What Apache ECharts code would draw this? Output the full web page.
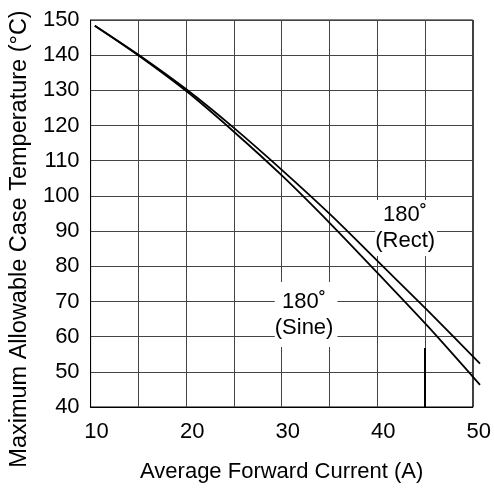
<!DOCTYPE html>
<html>
<head>
<meta charset="utf-8">
<script src="https://cdn.jsdelivr.net/npm/echarts@6/dist/echarts.min.js"></script>
<style>
  html, body { margin: 0; padding: 0; background: #fff; }
  #char { width: 494px; height: 489px; }
</style>
</head>
<body>
<div id="char"></div>
<script>
// current (A) and case temperature (°C)
let rectX = [10.5, 15, 20, 25, 30, 35, 40, 45, 50.5]
let rectY = [148.4, 140.2, 130.3, 119.2, 107.2, 94.6, 81.1, 67.6, 52.3]
let sineX = [10.5, 15, 20, 25, 30, 35, 40, 45, 50.5]
let sineY = [148.4, 140.0, 129.8, 118.1, 105.6, 92.0, 77.7, 63.2, 46.3]

let xTicks = [10, 20, 30, 40, 50]
let rectLabel = ['180˚', '(Rect)']
let rectLabelAt = [42.83, 90.9]
let sineLabel = ['180˚', '(Sine)']
let sineLabelAt = [32.44, 66.3]
// dark stub on the 45 A gridline near the bottom
let stub = [[45, 56.8], [45, 40]]

let font = 'Liberation Sans, Arial, sans-serif'

let curves = [
  { name: 'Rect', x: rectX, y: rectY, label: rectLabel, at: rectLabelAt, pad: [4, 2, 0, 0] },
  { name: 'Sine', x: sineX, y: sineY, label: sineLabel, at: sineLabelAt, pad: [10, 4, 3, 0] }
]

let myChart = echarts.init(document.getElementById('char'))
let option = {
  animation: false,
  grid: [
    {
      left: 90,
      right: 19,
      top: 20,
      bottom: 82,
      show: true,
      borderColor: '#000',
      borderWidth: 1
    },
    // same scale, a bit wider, so the curves can run past the right border
    { left: 90, right: 14, top: 20, bottom: 82 }
  ],
  xAxis: [
    {
      type: 'value',
      min: 10,
      max: 50,
      interval: 5,
      name: 'Average Forward Current (A)',
      nameLocation: 'middle',
      nameGap: 54,
      nameTextStyle: { color: '#000', fontSize: 22, fontFamily: font },
      axisLine: { lineStyle: { color: '#000' } },
      axisTick: { show: false },
      axisLabel: {
        color: '#000',
        fontSize: 22,
        fontFamily: font,
        margin: 14,
        padding: [0, 0, 0, 12],
        formatter: (v) => (xTicks.indexOf(v) >= 0 ? v : '')
      },
      splitLine: { lineStyle: { color: '#444', width: 1 } }
    },
    { type: 'value', gridIndex: 1, min: 10, max: 50.5, show: false }
  ],
  yAxis: [
    {
      type: 'value',
      min: 40,
      max: 150,
      interval: 10,
      name: 'Maximum Allowable Case Temperature (°C)',
      nameLocation: 'middle',
      nameGap: 58,
      nameTextStyle: { color: '#000', fontSize: 23.5, fontFamily: font, padding: [0, 51, 0, 0] },
      axisLine: { lineStyle: { color: '#000' } },
      axisTick: { show: false },
      axisLabel: { color: '#000', fontSize: 22, fontFamily: font, margin: 11 },
      splitLine: { lineStyle: { color: '#444', width: 1 } }
    },
    { type: 'value', gridIndex: 1, min: 40, max: 150, show: false }
  ],
  series: []
}

curves.forEach((c) => {
  option.series.push({
    name: c.name,
    type: 'line',
    xAxisIndex: 1,
    yAxisIndex: 1,
    data: c.x.map((x, i) => [x, c.y[i]]),
    smooth: 0.3,
    showSymbol: false,
    lineStyle: { color: '#000', width: 1.8 },
    markPoint: {
      symbol: 'circle',
      symbolSize: 0,
      data: [{ coord: c.at }],
      label: {
        show: true,
        position: 'inside',
        formatter: c.label.join('\n'),
        color: '#000',
        fontSize: 22,
        lineHeight: 26,
        fontFamily: font,
        backgroundColor: '#fff',
        padding: c.pad
      }
    }
  })
})

option.series.push({
  type: 'line',
  data: [],
  markLine: {
    silent: true,
    symbol: 'none',
    label: { show: false },
    lineStyle: { color: '#000', width: 2, type: 'solid' },
    data: [[{ coord: stub[0] }, { coord: stub[1] }]]
  }
})

myChart.setOption(option)
</script>
</body>
</html>
